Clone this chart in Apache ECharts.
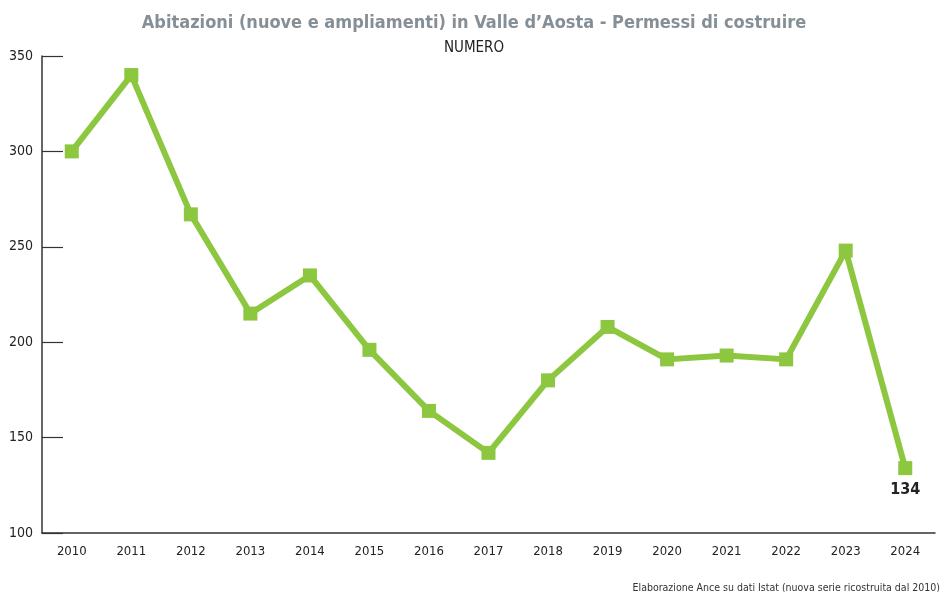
<!DOCTYPE html>
<html>
<head>
<meta charset="utf-8">
<script src="https://cdn.jsdelivr.net/npm/echarts@6/dist/echarts.min.js"></script>
<style>
html, body { margin: 0; padding: 0; background: #fff; }
#main { width: 948px; height: 592px; }
</style>
</head>
<body>
<div id="main"></div>
<script>
// permessi di costruire, Valle d'Aosta
var anni = ['2010', '2011', '2012', '2013', '2014', '2015', '2016', '2017', '2018', '2019', '2020', '2021', '2022', '2023', '2024'];
var permessi = [300, 340, 267, 215, 235, 196, 164, 142, 180, 208, 191, 193, 191, 248, 134];

var fontCond = '"Liberation Sans Narrow", "DejaVu Sans Condensed", "Roboto", sans-serif';

var chart = echarts.init(document.getElementById('main'));
var option = {
    backgroundColor: '#ffffff',
    animation: false,
    title: [
        {
            text: 'Abitazioni (nuove e ampliamenti) in Valle d\u2019Aosta - Permessi di costruire',
            left: 'center',
            top: 9,
            textStyle: { color: '#868f96', fontSize: 18, fontWeight: 'bold', fontFamily: fontCond }
        },
        {
            text: 'NUMERO',
            left: 'center',
            top: 36,
            textStyle: { color: '#222', fontSize: 15, fontWeight: 'normal', fontFamily: fontCond }
        },
        {
            text: 'Elaborazione Ance su dati Istat (nuova serie ricostruita dal 2010)',
            right: 3,
            top: 578,
            textStyle: { color: '#333', fontSize: 10.5, fontWeight: 'normal', fontFamily: fontCond }
        }
    ],
    grid: { left: 42, right: 13, top: 56, bottom: 59 },
    xAxis: {
        type: 'category',
        data: anni,
        boundaryGap: true,
        axisLine: { lineStyle: { color: '#333', width: 1.5 } },
        axisTick: { show: false },
        axisLabel: { color: '#222', fontSize: 13, margin: 12, fontFamily: fontCond }
    },
    yAxis: {
        type: 'value',
        min: 100,
        max: 350,
        interval: 50,
        axisLine: { show: true, lineStyle: { color: '#333', width: 1.5 } },
        axisTick: { show: true, inside: true, length: 21, lineStyle: { color: '#333', width: 1.2 } },
        splitLine: { show: false },
        axisLabel: { color: '#222', fontSize: 14, margin: 9, fontFamily: fontCond }
    },
    series: [
        {
            name: 'Permessi',
            type: 'line',
            data: permessi,
            symbol: 'rect',
            symbolSize: 14,
            lineStyle: { color: '#8dc63f', width: 6 },
            itemStyle: { color: '#8dc63f' },
            label: {
                show: true,
                position: 'bottom',
                distance: 7,
                color: '#222',
                fontSize: 16,
                fontWeight: 'bold',
                fontFamily: fontCond,
                formatter: function (p) { return p.dataIndex === permessi.length - 1 ? p.value : ''; }
            }
        }
    ]
};
chart.setOption(option);
</script>
</body>
</html>
